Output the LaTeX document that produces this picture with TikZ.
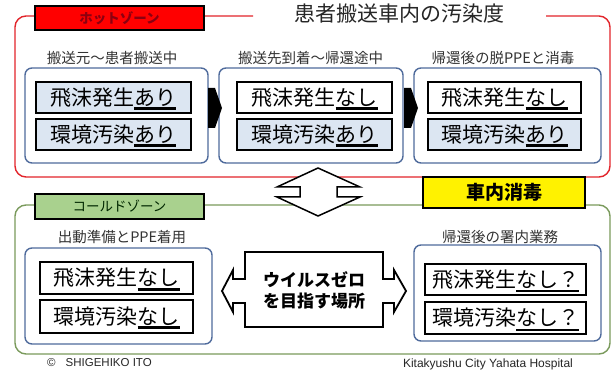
\documentclass[tikz,border=0pt]{standalone}
\usepackage{fontspec}
\setmainfont{Noto Sans CJK JP}
\newfontfamily\latf{Liberation Sans}
\definecolor{hotline}{HTML}{E2242A}
\definecolor{hotfill}{HTML}{FF0000}
\definecolor{hottext}{HTML}{8C0010}
\definecolor{coldline}{HTML}{7A9A5C}
\definecolor{coldfill}{HTML}{A9D18E}
\definecolor{stageblue}{HTML}{4F6B9C}
\definecolor{rowblue}{HTML}{DCE6F2}
\definecolor{hdrgray}{HTML}{333333}
\newcommand\ulmark[2][3pt]{\setbox0=\hbox{#2}\rlap{\smash{\rule[-5pt]{\wd0}{#1}}}\box0}
\begin{document}
\begin{tikzpicture}[x=1pt,y=-1pt,
  zone/.style={line width=1.4pt, rounded corners=11pt},
  stage/.style={draw=stageblue, line width=1.4pt, rounded corners=7pt, fill=white, minimum height=95pt, inner sep=0pt},
  rowbox/.style={draw=black, line width=2pt, minimum height=31pt, minimum width=155pt, inner sep=0pt, font=\fontsize{21}{21}\selectfont},
  rowpos/.style={rowbox, fill=rowblue},
  rowneg/.style={rowbox, fill=white},
  hdr/.style={text=hdrgray, font=\fontsize{14.5}{15}\selectfont, inner sep=0pt},
  zlabel/.style={draw=black, line width=1.3pt, minimum width=169pt, inner sep=0pt, font=\fontsize{13.5}{14}\selectfont},
  blockarrow/.style={fill=black},
  outlinearrow/.style={draw=black, line width=1.5pt, fill=white, line join=miter}
]
\useasboundingbox (0,0) rectangle (616,374);
\fill[white] (0,0) rectangle (616,374);

% zone frames
\draw[zone, draw=hotline] (253,16) -- (15,16) -- (15,177) -- (610,177) -- (610,16) -- (546,16);
\draw[zone, draw=coldline] (15,205) rectangle (610,354);

% title
\node[font=\fontsize{21}{21}\selectfont, text=black!85, inner sep=0pt] (title) at (399,14) {患者搬送車内の汚染度};

% zone labels
\node[zlabel, fill=hotfill, text=hottext, minimum height=24pt, font=\fontsize{13.5}{14}\selectfont\bfseries] (hot) at (119.5,18) {ホットゾーン};
\node[zlabel, fill=coldfill, text=black!85!green, minimum height=25pt] (cold) at (119.5,206.5) {コールドゾーン};

% headers
\node[hdr] (h1) at (112,58) {搬送元～患者搬送中};
\node[hdr] (h2) at (310.5,58) {搬送先到着～帰還途中};
\node[hdr] (h3) at (503,58) {帰還後の脱PPEと消毒};
\node[hdr] (h4) at (122,237) {出動準備とPPE着用};
\node[hdr] (h5) at (500,237) {帰還後の署内業務};

% stage boxes (hot)
\node[stage, minimum width=183pt] (s1) at (116.5,115.5) {};
\node[stage, minimum width=184pt] (s2) at (311,115.5) {};
\node[stage, minimum width=187pt] (s3) at (507.5,115.5) {};

\node[rowpos] (r11) at (113,97.5) {飛沫発生\ulmark{あり}};
\node[rowpos] (r12) at (113,134.5) {環境汚染\ulmark{あり}};
\node[rowneg] (r21) at (314.5,97.5) {飛沫発生\ulmark{なし}};
\node[rowpos] (r22) at (314.5,134.5) {環境汚染\ulmark{あり}};
\node[rowneg, minimum width=153pt] (r31) at (504.5,97.5) {飛沫発生\ulmark{なし}};
\node[rowpos, minimum width=153pt] (r32) at (504.5,134.5) {環境汚染\ulmark{あり}};

% black arrows between stages
\fill[blockarrow] (208,88) -- (215,88) -- (222,108) -- (215,128) -- (208,128) -- cycle;
\fill[blockarrow] (404,88) -- (411,88) -- (418,108) -- (411,128) -- (404,128) -- cycle;

% cold stage boxes
\node[stage, minimum width=187pt, minimum height=96pt] (c1) at (118.5,296) {};
\node[stage, minimum width=187pt, minimum height=96pt] (c2) at (507.5,293) {};
\node[rowneg, minimum width=153pt, minimum height=32pt] (q11) at (116.5,278) {飛沫発生\ulmark{なし}};
\node[rowneg, minimum width=153pt, minimum height=33pt] (q12) at (116.5,316.5) {環境汚染\ulmark{なし}};
\node[rowneg, minimum width=161pt] (q21) at (505.5,279.5) {飛沫発生\ulmark[2.2pt]{なし？}};
\node[rowneg, minimum width=161pt, minimum height=32pt] (q22) at (505.5,318) {環境汚染\ulmark[2.2pt]{なし？}};

% up-down arrow between zones
\draw[outlinearrow] (318,168) -- (360,187) -- (337,187) -- (337,197) -- (360,197) -- (318,216) -- (277,197) -- (300,197) -- (300,187) -- (277,187) -- cycle;

% yellow disinfection label
\node[draw=black, line width=1.3pt, fill=yellow, minimum width=162pt, minimum height=31pt, inner sep=0pt, font=\fontsize{19}{19}\selectfont\bfseries] (dis) at (504,192.5) {車内消毒};

% central callout
\draw[outlinearrow, line width=1.8pt] (245,252) -- (383,252) -- (383,279) -- (394,279) -- (394,270) -- (406,291) -- (394,312) -- (394,303) -- (383,303) -- (383,327) -- (245,327) -- (245,303) -- (233,303) -- (233,312) -- (222,291) -- (233,270) -- (233,279) -- (245,279) -- cycle;
\node[align=center, font=\fontsize{17}{21}\selectfont\bfseries, inner sep=0pt] (zero) at (314,290) {ウイルスゼロ\\を目指す場所};

% credits
\node[anchor=west, font=\latf\fontsize{11.5}{12}\selectfont, text=black!85, inner sep=0pt] (copy) at (47,363) {©\hspace{10pt}SHIGEHIKO ITO};
\node[font=\latf\fontsize{12}{12}\selectfont, text=black!85, inner sep=0pt] (hosp) at (488,364) {Kitakyushu City Yahata Hospital};
\end{tikzpicture}
\end{document}
